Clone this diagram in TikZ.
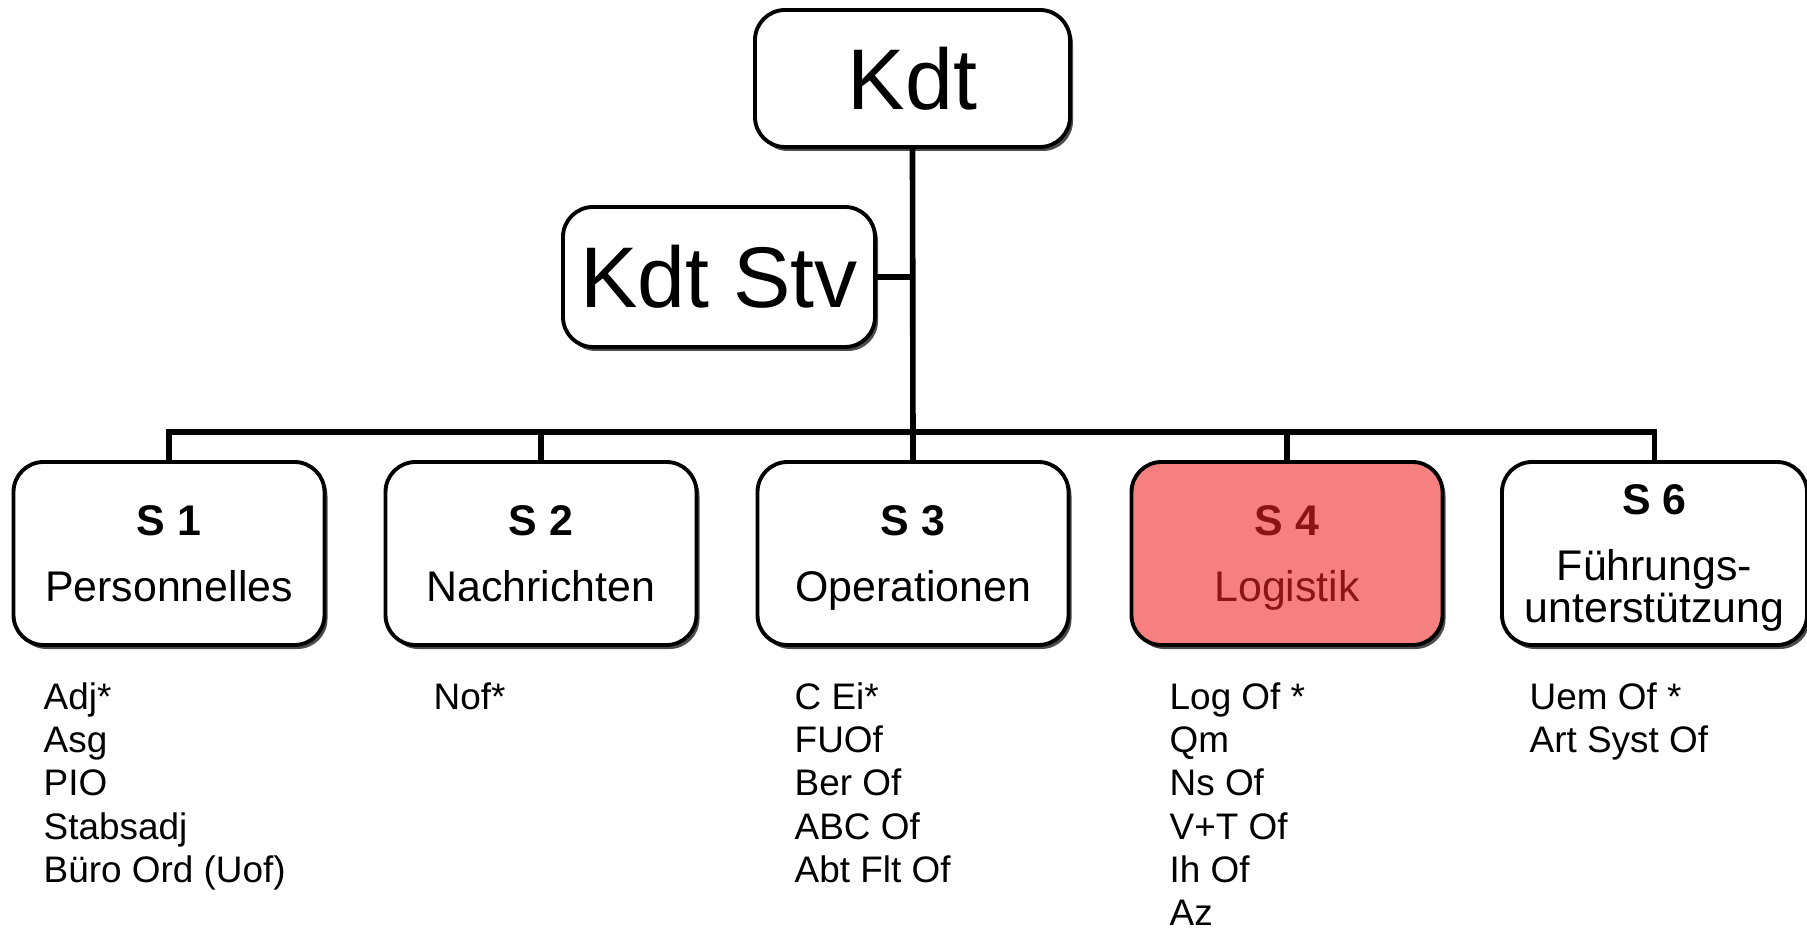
\documentclass[tikz,border=0pt]{standalone}
\usepackage{fontspec}
\setmainfont{Liberation Sans}
\usetikzlibrary{shadows}
\definecolor{logfill}{RGB}{246,128,128}
\definecolor{logtext}{RGB}{140,20,20}
\tikzset{
	box/.style={draw, line width=1.1pt, rounded corners=0.3cm, fill=white, minimum width=3.11cm, minimum height=1.83cm, align=center, inner sep=0pt, font=\fontsize{12.2}{12}\selectfont, drop shadow={shadow xshift=0.03cm, shadow yshift=-0.04cm, opacity=0.7, fill=black}},
	bigbox/.style={box, font=\fontsize{24.5}{28}\selectfont},
	conn/.style={line width=1.6pt},
	duties/.style={anchor=north west, align=left, inner sep=0pt, font=\fontsize{10.5}{12.3}\selectfont}
}
\begin{document}
\begin{tikzpicture}
	\useasboundingbox (0,0) rectangle (18.07,-9.33);
	% chief and deputy
	\node[bigbox, minimum width=3.15cm, minimum height=1.37cm] (kdt) at (9.125,-0.785) {Kdt};
	\node[bigbox, minimum width=3.12cm, minimum height=1.40cm] (stv) at (7.19,-2.77) {Kdt Stv};
	% staff sections
	\node[box] (s1) at (1.69,-5.535) {\textbf{S 1}\\[6.8pt]\smash{Personnelles}};
	\node[box] (s2) at (5.41,-5.535) {\textbf{S 2}\\[6.8pt]\smash{Nachrichten}};
	\node[box] (s3) at (9.13,-5.535) {\textbf{S 3}\\[6.8pt]\smash{Operationen}};
	\node[box, fill=logfill, text=logtext] (s4) at (12.87,-5.535) {\textbf{S 4}\\[6.8pt]\smash{Logistik}};
	\node[box, minimum width=3.05cm] (s6) at (16.545,-5.535) {\textbf{S 6}\\[6.8pt]Führungs-\\\smash{unterstützung}};
	% connectors
	\coordinate (bus) at (9.13,-4.32);
	\draw[conn] (kdt.south) -- (s3.north);
	\draw[conn] (stv.east) -- (stv.east -| kdt.south);
	\draw[conn] (s1.north) |- (bus) -| (s6.north);
	\draw[conn] (s2.north) -- (s2.north |- bus);
	\draw[conn] (s4.north) -- (s4.north |- bus);
	% duties
	\node[duties] (d1) at (0.43,-6.82) {Adj*\\Asg\\PIO\\Stabsadj\\Büro Ord (Uof)};
	\node[duties] (d2) at (4.33,-6.82) {Nof*};
	\node[duties] (d3) at (7.94,-6.82) {C Ei*\\FUOf\\Ber Of\\ABC Of\\Abt Flt Of};
	\node[duties] (d4) at (11.69,-6.82) {Log Of *\\Qm\\Ns Of\\V+T Of\\Ih Of\\Az};
	\node[duties] (d6) at (15.29,-6.82) {Uem Of *\\Art Syst Of};
\end{tikzpicture}
\end{document}
